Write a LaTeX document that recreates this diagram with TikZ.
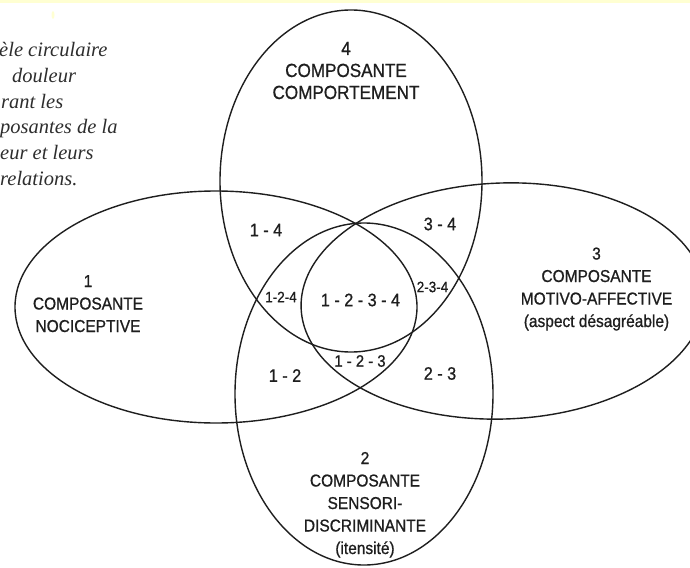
\documentclass[tikz,border=0pt]{standalone}
\usepackage{fontspec}
\setmainfont{Liberation Serif}
\newfontfamily\labfont{Liberation Sans}[FakeStretch=0.9,FakeBold=0.8]
\usetikzlibrary{shapes.geometric}
\definecolor{ink}{HTML}{1E1E1E}
\definecolor{capink}{HTML}{2E2E2E}
\definecolor{scanyellow}{HTML}{FFFFD2}
\begin{document}
\begin{tikzpicture}[x=1pt,y=-1pt,
  setshape/.style={ellipse, draw=ink, line width=1.4pt, inner sep=0pt, outer sep=0pt},
  complabel/.style={font=\labfont\fontsize{17.2}{22.5}\selectfont, text=ink, align=center, anchor=base, inner sep=0pt},
  toplabel/.style={font=\labfont\fontsize{19}{22}\selectfont, text=ink, align=center, anchor=base, inner sep=0pt},
  reglabel/.style={font=\labfont\fontsize{18}{20}\selectfont, text=ink, inner sep=0pt},
  midlabel/.style={font=\labfont\fontsize{16.5}{18}\selectfont, text=ink, inner sep=0pt},
  smalllabel/.style={font=\labfont\fontsize{15}{17}\selectfont, text=ink, inner sep=0pt},
  captionline/.style={font=\itshape\fontsize{20.5}{25.6}\selectfont, text=capink, anchor=base west, inner sep=0pt}]
\useasboundingbox (0,0) rectangle (690,567);
\clip (0,0) rectangle (690,567);
\fill[white] (0,0) rectangle (690,567);
\fill[scanyellow] (0,0) rectangle (690,3);
\fill[scanyellow] (53,15) ellipse [x radius=1.5, y radius=4];

% the four sets
\node[setshape, minimum width=402pt, minimum height=232pt] (e1) at (216,307) {};
\node[setshape, minimum width=404pt, minimum height=236pt, rotate=2] (e3) at (503,301) {};
\node[setshape, minimum width=262pt, minimum height=342pt] (e4) at (351,181) {};
\node[setshape, minimum width=258pt, minimum height=342pt] (e2) at (364,394) {};

% component labels (anchored at the baseline of their last line)
\node[toplabel] (l4) at (346,99) {4\\COMPOSANTE\\COMPORTEMENT};
\node[complabel] (l1) at (88,332) {1\\COMPOSANTE\\NOCICEPTIVE};
\node[complabel] (l3) at (596.5,327) {3\\COMPOSANTE\\MOTIVO-AFFECTIVE\\(aspect désagréable)};
\node[complabel] (l2) at (365,554) {2\\COMPOSANTE\\SENSORI-\\DISCRIMINANTE\\(itensité)};

% intersection labels
\node[reglabel] (r14) at (266,230) {1 - 4};
\node[reglabel] (r34) at (440,224) {3 - 4};
\node[smalllabel] (r124) at (281,297) {1-2-4};
\node[reglabel] (r1234) at (360.5,300) {1 - 2 - 3 - 4};
\node[smalllabel] (r234) at (432.5,287) {2-3-4};
\node[midlabel] (r123) at (360,361) {1 - 2 - 3};
\node[reglabel] (r12) at (285,375.5) {1 - 2};
\node[reglabel] (r23) at (440,373.5) {2 - 3};

% caption (cut at the left edge)
\node[captionline] (c1) at (-1,57) {èle circulaire};
\node[captionline] (c2) at (12,82.6) {douleur};
\node[captionline] (c3) at (1,108.2) {rant les};
\node[captionline] (c4) at (0,133.8) {posantes de la};
\node[captionline] (c5) at (0,159.4) {eur et leurs};
\node[captionline] (c6) at (0,185) {relations.};
\end{tikzpicture}
\end{document}
